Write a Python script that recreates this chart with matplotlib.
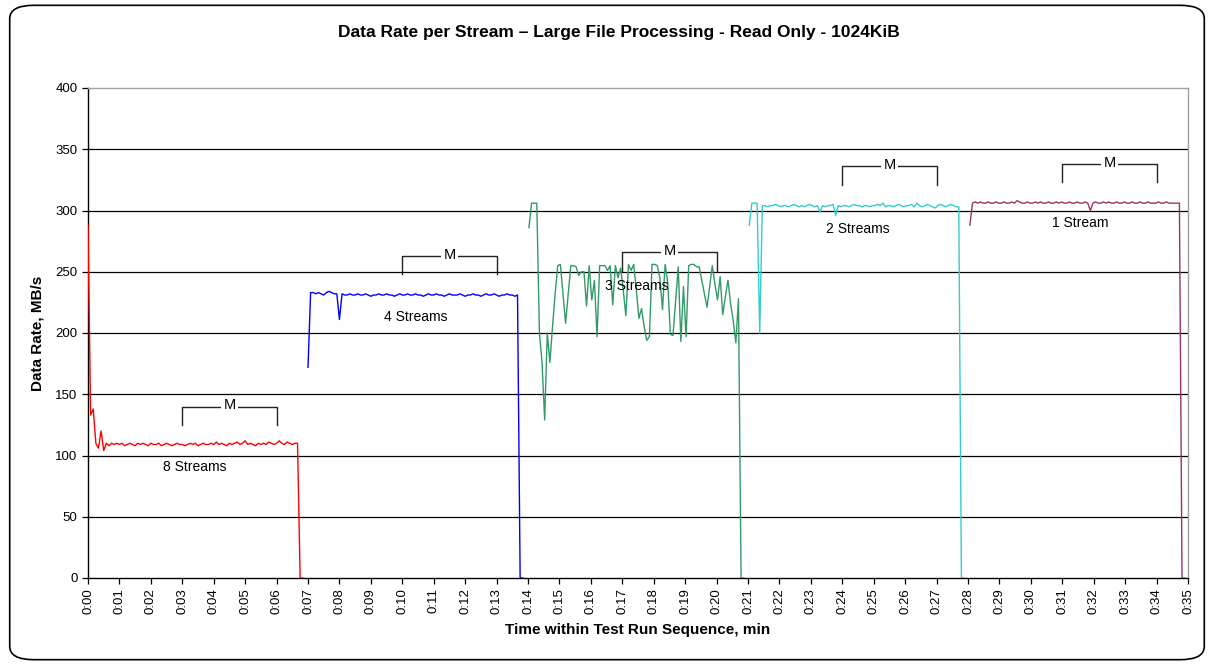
import matplotlib
matplotlib.use("Agg")
import matplotlib.pyplot as plt
from matplotlib.patches import FancyBboxPatch
import numpy as np

plt.rcParams['font.family'] = ['Liberation Sans', 'DejaVu Sans']

# ---- data ----
step_min = 1.0 / 12.0  # 5-second samples
series_names = ["8 Streams", "4 Streams", "3 Streams", "2 Streams", "1 Stream"]
series_start = [0.0, 7.0, 14.03, 21.04, 28.06]
series_colors = ["#FF0000", "#0000FF", "#339966", "#33CCCC", "#993366"]

rate_8 = [288, 133, 138, 110, 106, 120, 104, 110, 108, 110,
          109, 110, 109, 110, 108, 109, 110, 109, 108, 110,
          109, 110, 109, 108, 110, 109, 109, 110, 108, 109,
          110, 109, 108, 109, 110, 109, 109, 108, 109, 110,
          109, 110, 108, 109, 110, 109, 109, 110, 109, 111,
          109, 110, 109, 108, 110, 109, 110, 111, 109, 110,
          112, 109, 110, 109, 108, 110, 109, 110, 109, 111,
          110, 109, 110, 112, 110, 109, 111, 110, 109, 110,
          110, 0, 0]
rate_4 = [172, 233, 233, 232, 233, 232, 231, 233, 234, 233,
          232, 232, 211, 232, 231, 231, 232, 231, 231, 232,
          231, 231, 232, 231, 230, 231, 231, 232, 231, 231,
          232, 231, 231, 230, 231, 232, 231, 231, 232, 231,
          231, 232, 231, 231, 230, 231, 232, 231, 231, 232,
          231, 231, 230, 231, 232, 231, 231, 231, 232, 231,
          230, 231, 231, 232, 231, 231, 230, 231, 232, 231,
          231, 232, 231, 230, 231, 231, 232, 231, 231, 230,
          231, 0, 0]
rate_3 = [286, 306, 306, 306, 200, 176, 129, 200, 176, 205,
          232, 255, 256, 232, 208, 232, 255, 255, 254, 247,
          250, 250, 222, 255, 227, 243, 197, 255, 255, 255,
          251, 255, 223, 255, 245, 253, 235, 214, 256, 251,
          256, 235, 212, 220, 205, 194, 197, 256, 256, 255,
          245, 219, 256, 241, 199, 198, 226, 254, 193, 238,
          197, 255, 256, 256, 254, 254, 243, 232, 221, 238,
          255, 240, 227, 246, 215, 230, 243, 224, 210, 192,
          228, 0, 0]
rate_2 = [288, 306, 306, 306, 200, 304, 304, 303, 304, 304,
          305, 304, 303, 304, 304, 303, 304, 305, 304, 303,
          304, 303, 304, 305, 304, 303, 304, 299, 304, 303,
          304, 304, 305, 296, 304, 303, 304, 304, 303, 304,
          305, 304, 304, 303, 304, 304, 303, 304, 304, 305,
          304, 306, 303, 304, 304, 303, 304, 305, 304, 303,
          304, 304, 305, 303, 306, 304, 303, 304, 305, 304,
          303, 302, 304, 305, 304, 303, 304, 305, 304, 303,
          303, 0, 0]
rate_1 = [288, 306, 307, 306, 307, 306, 306, 307, 306, 306,
          307, 306, 306, 307, 306, 306, 307, 306, 308, 307,
          306, 306, 307, 306, 306, 307, 306, 307, 306, 306,
          307, 306, 306, 307, 306, 307, 306, 306, 307, 306,
          306, 307, 306, 306, 307, 306, 300, 306, 307, 306,
          306, 307, 306, 307, 306, 306, 307, 306, 306, 307,
          306, 306, 307, 306, 306, 307, 306, 306, 307, 306,
          306, 306, 307, 306, 306, 307, 306, 306, 306, 306,
          306, 0, 0]
series_rates = [rate_8, rate_4, rate_3, rate_2, rate_1]

# measurement window brackets ("M")
m_start = [3, 10, 17, 24, 31]
m_end = [6, 13, 20, 27, 34]
m_top = [140, 263, 266, 336, 338]
# label positions
label_x = [3.4, 10.44, 17.46, 24.49, 31.56]
label_y = [91, 213, 238, 285, 290]

x_ticks = list(range(0, 36))
x_tick_labels = ["0:%02d" % m for m in x_ticks]
y_ticks = [0, 50, 100, 150, 200, 250, 300, 350, 400]

# ---- figure ----
fig = plt.figure(figsize=(12.14, 6.65), dpi=100)
fig.patches.append(FancyBboxPatch((0.008, 0.008), 0.984, 0.984,
                                  boxstyle="round,pad=0,rounding_size=0.02",
                                  transform=fig.transFigure, fill=False,
                                  edgecolor="black", linewidth=1.2))
ax = fig.add_axes([88 / 1214, 1 - 578 / 665, 1100 / 1214, 490 / 665])

for y in y_ticks[1:-1]:
    ax.axhline(y, color="black", linewidth=0.9, zorder=1)

for start, rates, color in zip(series_start, series_rates, series_colors):
    t = start + np.arange(len(rates)) * step_min
    ax.plot(t, rates, color=color, linewidth=1.0, zorder=3)

for s, e, top in zip(m_start, m_end, m_top):
    ax.plot([s, s, e, e], [top - 15, top, top, top - 15], color="#222222",
            linewidth=1.0, zorder=4)
    ax.text((s + e) / 2, top + 1, "M", ha="center", va="center", fontsize=10.5,
            zorder=5, bbox=dict(facecolor="white", edgecolor="none", pad=1.5))

for name, lx, ly in zip(series_names, label_x, label_y):
    ax.text(lx, ly, name, ha="center", va="center", fontsize=10, zorder=6)

ax.set_xlim(0, 35)
ax.set_ylim(0, 400)
ax.set_xticks(x_ticks)
ax.set_xticklabels(x_tick_labels, rotation=90, fontsize=9.5)
ax.set_yticks(y_ticks)
ax.set_yticklabels([str(v) for v in y_ticks], fontsize=9.5)
ax.tick_params(axis="both", direction="out", length=4, width=0.9, color="black")
for side in ["left", "bottom"]:
    ax.spines[side].set_color("black")
    ax.spines[side].set_linewidth(1.0)
for side in ["top", "right"]:
    ax.spines[side].set_color("#A0A0A0")
    ax.spines[side].set_linewidth(1.0)

ax.set_ylabel("Data Rate, MB/s", fontsize=11, fontweight="bold", labelpad=8)
ax.set_xlabel("Time within Test Run Sequence, min", fontsize=11,
              fontweight="bold", labelpad=6)
fig.text(619 / 1214, 1 - 33 / 665,
         "Data Rate per Stream \u2013 Large File Processing - Read Only - 1024KiB",
         ha="center", va="center", fontsize=12.5, fontweight="bold")

fig.savefig("out.png", dpi=100)
